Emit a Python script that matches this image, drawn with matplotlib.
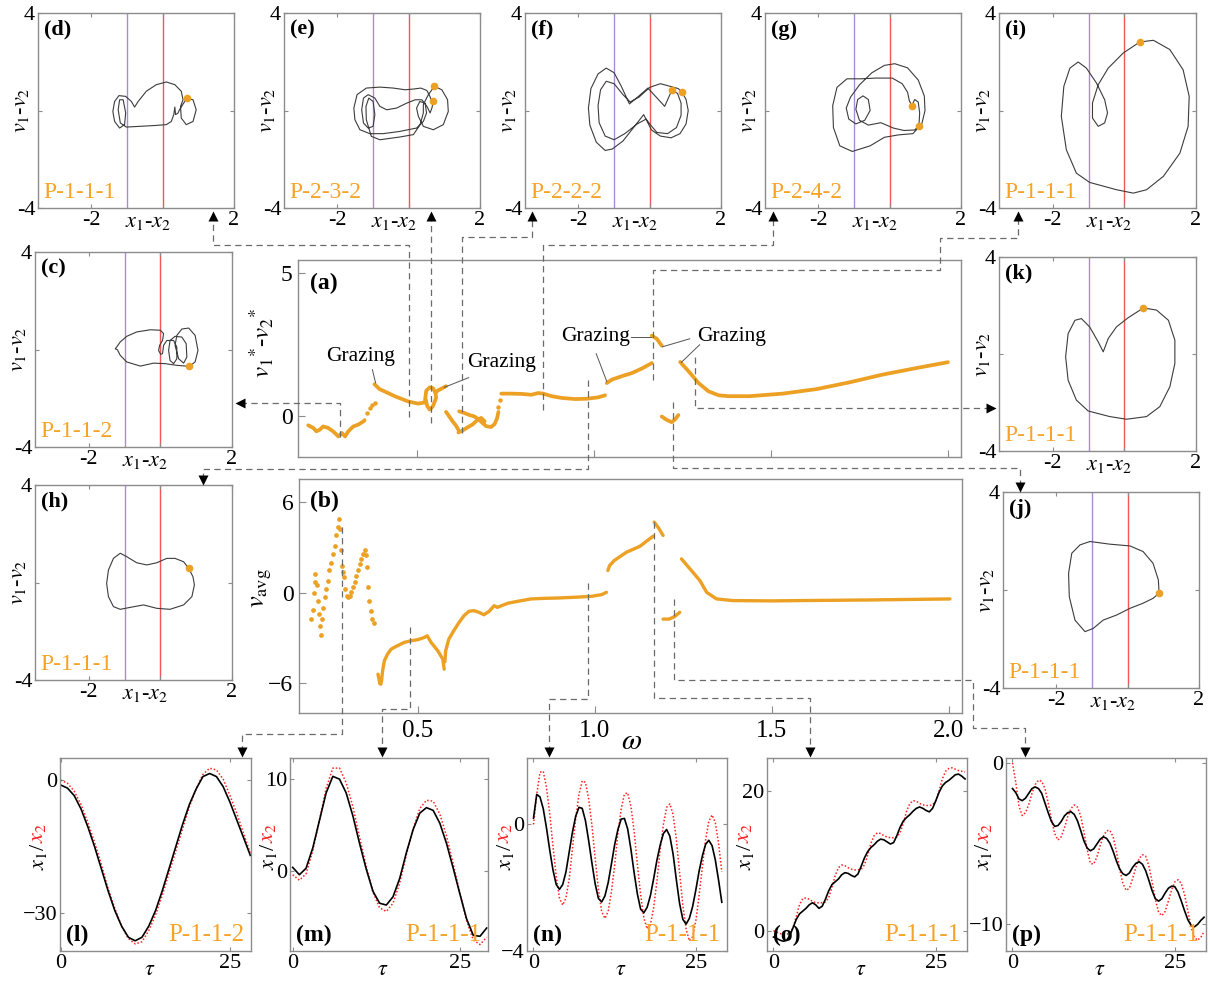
import numpy as np
import matplotlib.pyplot as plt
from matplotlib.lines import Line2D

plt.rcParams['font.family'] = ['Liberation Serif', 'DejaVu Serif']
plt.rcParams['mathtext.fontset'] = 'stix'

W, H = 1210, 983
ORANGE = '#eca024'
TXT_ORANGE = '#f7a328'
PURPLE = '#a98ad8'
RED = '#f25656'
SPINE = '#8c8c8c'
DASH = '#6a6a6a'

# ---------------- panel (a): v1*-v2* vs omega ----------------
A_LINES = [
    ([0.194, 0.208, 0.217, 0.227, 0.236, 0.250, 0.264, 0.279, 0.289, 0.298, 0.307, 0.321, 0.336, 0.350, 0.353],
     [-0.34, -0.43, -0.55, -0.49, -0.38, -0.43, -0.55, -0.73, -0.61, -0.73, -0.55, -0.38, -0.31, -0.20, -0.16]),
    ([0.381, 0.395, 0.409, 0.438, 0.475, 0.504, 0.523],
     [1.10, 0.93, 0.85, 0.68, 0.50, 0.42, 0.46]),
    ([0.523, 0.527, 0.537, 0.546, 0.553, 0.555, 0.546, 0.537, 0.530, 0.526],
     [0.46, 0.87, 0.99, 0.96, 0.81, 0.62, 0.33, 0.21, 0.33, 0.55]),
    ([0.553, 0.560, 0.574, 0.583], [0.80, 0.88, 0.97, 1.03]),
    ([0.583, 0.592, 0.602, 0.611, 0.618], [0.13, -0.03, -0.21, -0.35, -0.50]),
    ([0.620, 0.635, 0.649, 0.663, 0.677, 0.687, 0.696, 0.710, 0.720, 0.727, 0.731],
     [0.15, 0.09, 0.02, -0.03, -0.15, -0.27, -0.37, -0.40, -0.30, -0.10, 0.13]),
    ([0.618, 0.630, 0.644, 0.658, 0.671, 0.682, 0.692],
     [-0.59, -0.52, -0.41, -0.31, -0.16, -0.08, -0.20]),
    ([0.739, 0.767, 0.796, 0.824, 0.843, 0.857, 0.881, 0.909, 0.947, 0.980, 1.013, 1.032],
     [0.77, 0.77, 0.76, 0.73, 0.79, 0.77, 0.68, 0.62, 0.58, 0.59, 0.64, 0.71]),
    ([1.037, 1.051, 1.079, 1.108, 1.136, 1.164], [1.14, 1.26, 1.38, 1.49, 1.65, 1.84]),
    ([1.164, 1.178, 1.192], [2.80, 2.69, 2.45]),
    ([1.192, 1.206, 1.220, 1.230, 1.239], [-0.03, -0.15, -0.23, -0.13, 0.02]),
    ([1.244, 1.268, 1.296, 1.324, 1.353, 1.381, 1.44, 1.534, 1.63, 1.724, 1.817, 1.913, 2.0],
     [1.88, 1.55, 1.14, 0.85, 0.71, 0.68, 0.68, 0.77, 0.93, 1.17, 1.44, 1.67, 1.87]),
]
A_DOTS_W = [0.361, 0.367, 0.374, 0.381, 0.731, 0.734]
A_DOTS_V = [0.08, 0.26, 0.38, 0.44, 0.31, 0.56]

# ---------------- panel (b): v_avg vs omega ----------------
B_DOTS_W = [0.200, 0.204, 0.206, 0.209, 0.211, 0.215, 0.218, 0.221, 0.224, 0.228,
            0.231, 0.234, 0.238, 0.242, 0.247, 0.251, 0.256, 0.261, 0.266, 0.270,
            0.275, 0.278, 0.281, 0.283, 0.285, 0.288, 0.292, 0.296, 0.300, 0.304,
            0.308, 0.313, 0.318, 0.322, 0.327, 0.332, 0.336, 0.341, 0.346, 0.350,
            0.355, 0.358, 0.360, 0.364, 0.368, 0.371, 0.377]
B_DOTS_V = [-1.76, -1.17, 0.0, 0.69, 1.24, 0.53, -0.53, -1.4, -2.2, -2.8,
            -1.76, -1.0, -0.31, 0.24, 0.8, 1.47, 2.0, 2.58, 3.13, 3.8,
            4.36, 4.87, 4.2, 2.8, 1.8, 1.36, 1.02, 0.24, -0.2, -0.31,
            -0.2, 0.02, 0.36, 0.69, 1.13, 1.47, 1.87, 2.24, 2.58, 2.8,
            2.53, 1.69, 0.36, -0.53, -1.2, -1.76, -2.02]
B_LINES = [
    ([0.388, 0.391, 0.393, 0.396, 0.398, 0.401, 0.406, 0.415, 0.425, 0.443, 0.462, 0.481,
      0.500, 0.519, 0.527, 0.538, 0.557, 0.571, 0.575],
     [-5.42, -5.76, -6.04, -6.09, -5.87, -5.2, -4.53, -4.09, -3.76, -3.53, -3.31, -3.2,
      -3.13, -2.98, -2.87, -3.31, -3.87, -4.42, -5.09]),
    ([0.577, 0.579, 0.588, 0.602, 0.617, 0.631, 0.645, 0.659, 0.673, 0.687, 0.702, 0.716,
      0.725, 0.754, 0.782, 0.820, 0.857, 0.895, 0.942, 0.990, 1.020, 1.033],
     [-4.6, -3.87, -3.09, -2.53, -1.98, -1.53, -1.24, -1.2, -1.31, -1.47, -1.24, -0.87,
      -0.98, -0.71, -0.58, -0.42, -0.38, -0.36, -0.31, -0.25, -0.13, 0.02]),
    ([1.037, 1.042, 1.055, 1.090, 1.127, 1.165], [1.47, 1.8, 2.13, 2.69, 3.07, 3.75]),
    ([1.168, 1.180, 1.193], [4.69, 4.3, 3.8]),
    ([1.193, 1.210, 1.225, 1.240], [-1.76, -1.76, -1.6, -1.31]),
    ([1.245, 1.270, 1.297, 1.316, 1.344, 1.390, 1.500, 1.579, 1.768, 2.003],
     [2.24, 1.55, 0.8, 0.02, -0.42, -0.53, -0.55, -0.53, -0.49, -0.42]),
]

# ---------------- phase portraits: x1-x2 vs v1-v2 ----------------
D_X = [0.68, 0.85, 0.94, 0.85, 0.66, 0.52, 0.50, 0.57, 0.52, 0.34, 0.10, -0.18, -0.46, -0.69, -0.79,
       -0.88, -1.04, -1.23, -1.35, -1.40, -1.35, -1.21, -1.07, -1.04, -1.11, -1.21, -1.25, -1.19, -1.02,
       -0.65, -0.27, 0.10, 0.24, 0.31, 0.34, 0.36, 0.43, 0.47, 0.59, 0.68]
D_Y = [0.50, 0.44, 0.03, -0.45, -0.58, -0.31, 0.17, 0.44, 0.79, 1.06, 1.17, 1.06, 0.79, 0.37, 0.14,
       0.37, 0.58, 0.61, 0.37, -0.04, -0.45, -0.72, -0.58, -0.10, 0.44, 0.44, 0.03, -0.51, -0.68,
       -0.65, -0.62, -0.58, -0.45, -0.17, 0.14, -0.17, -0.10, 0.03, 0.31, 0.50]

E_X = [0.72, 0.93, 1.09, 1.11, 0.97, 0.69, 0.41, 0.27, 0.22, 0.31, 0.46, 0.50, 0.41, 0.22, -0.26,
       -0.72, -1.09, -1.37, -1.51, -1.54, -1.45, -1.19, -0.81, -0.43, -0.10, 0.13, 0.34, 0.51, 0.60,
       0.65, 0.69, 0.65, 0.60, 0.51, 0.37, 0.18, -0.06, -0.34, -0.62, -0.81, -0.95, -1.14, -1.27,
       -1.32, -1.27, -1.14, -1.00, -0.95, -1.00, -1.12, -1.20, -1.19, -1.05, -0.81, -0.26, 0.13,
       0.32, 0.41, 0.41, 0.55, 0.72]
E_Y = [0.99, 0.85, 0.44, -0.04, -0.58, -0.79, -0.65, -0.24, 0.10, 0.37, 0.30, -0.10, -0.45, -0.72, -0.86,
       -0.95, -0.95, -0.79, -0.38, 0.10, 0.65, 0.92, 0.96, 0.92, 0.85, 0.88, 0.92, 0.82, 0.56,
       0.37, 0.37, 0.10, -0.10, 0.17, 0.44, 0.44, 0.30, 0.10, 0.03, 0.17, 0.51, 0.65, 0.51,
       0.03, -0.51, -0.72, -0.65, -0.17, 0.37, 0.51, 0.17, -0.38, -1.06, -1.20, -1.09, -0.99,
       -0.58, -0.10, 0.24, 0.65, 0.99]

F_X = [0.91, 1.02, 1.08, 1.02, 0.85, 0.60, 0.30, 0.05, -0.17, -0.40, -0.75, -1.05, -1.25, -1.50,
       -1.68, -1.72, -1.65, -1.45, -1.22, -1.00, -0.80, -0.57, -0.30, -0.05, 0.15, 0.42, 0.55, 0.62,
       0.78, 0.88, 0.88, 0.75, 0.50, 0.20, 0.00, -0.10, -0.35, -0.70, -1.00, -1.25, -1.42, -1.45,
       -1.38, -1.22, -1.00, -0.75, -0.55, -0.30, 0.00, 0.30, 0.55, 0.80, 0.91]
F_Y = [0.74, 0.45, 0.00, -0.55, -0.95, -1.12, -1.05, -0.80, -0.17, -0.60, -1.25, -1.58, -1.64, -1.30,
       -0.60, 0.10, 0.90, 1.50, 1.74, 1.55, 1.00, 0.27, 0.60, 0.92, 0.60, 0.17, 0.60, 0.83,
       0.70, 0.30, -0.20, -0.70, -0.95, -0.90, -0.55, -0.35, -0.55, -0.95, -1.20, -1.05, -0.50, 0.20,
       0.85, 1.20, 1.10, 0.65, 0.35, 0.55, 0.95, 1.10, 1.00, 0.90, 0.74]

G_X = [0.62, 0.70, 0.80, 0.84, 0.82, 0.70, 0.40, 0.10, -0.25, -0.60, -0.85, -0.95, -0.90, -0.75,
       -0.60, -0.55, -0.70, -0.95, -1.15, -1.22, -1.10, -0.85, -0.50, -0.15, 0.14, 0.50, 0.80, 0.97,
       0.99, 0.90, 0.65, 0.25, -0.15, -0.55, -1.05, -1.40, -1.58, -1.60, -1.48, -1.20, -0.80, -0.40,
       0.07, 0.35, 0.50, 0.55, 0.62]
G_Y = [0.20, 0.45, 0.35, -0.10, -0.62, -0.80, -0.82, -0.72, -0.50, -0.60, -0.40, 0.05, 0.45, 0.60,
       0.45, 0.00, -0.40, -0.55, -0.35, 0.10, 0.55, 1.05, 1.55, 1.85, 1.92, 1.75, 1.25, 0.60,
       0.00, -0.55, -0.95, -1.00, -1.10, -1.45, -1.68, -1.45, -0.70, 0.20, 0.95, 1.30, 1.30, 1.33,
       1.33, 1.10, 0.75, 0.40, 0.20]

I_X = [0.43, 0.81, 1.27, 1.64, 1.81, 1.78, 1.55, 1.09, 0.62, 0.25, -0.22, -0.97, -1.34, -1.62, -1.76,
       -1.69, -1.52, -1.29, -1.06, -0.78, -0.55, -0.47, -0.55, -0.73, -0.89, -0.89, -0.73, -0.45,
       -0.03, 0.43]
I_Y = [2.81, 2.88, 2.50, 1.67, 0.58, -0.65, -1.75, -2.70, -3.25, -3.39, -3.25, -2.95, -2.57, -1.61,
       -0.24, 0.99, 1.74, 1.99, 1.74, 1.13, 0.44, -0.10, -0.51, -0.65, -0.31, 0.31, 1.06, 1.74,
       2.36, 2.81]

C_X = [0.81, 0.97, 1.05, 0.97, 0.79, 0.60, 0.46, 0.41, 0.51, 0.65, 0.74, 0.72, 0.60, 0.41, 0.27,
       0.23, 0.27, 0.37, 0.46, 0.46, 0.37, 0.18, 0.09, 0.06, 0.01, -0.05, -0.02, 0.06, 0.09, 0.00,
       -0.28, -0.66, -0.94, -1.12, -1.22, -1.26, -1.20, -1.12, -0.94, -0.56, -0.19, 0.13, 0.46, 0.81]
C_Y = [-0.69, -0.51, -0.04, 0.58, 0.88, 0.84, 0.58, 0.17, -0.38, -0.56, -0.31, 0.24, 0.51, 0.54, 0.37,
       -0.04, -0.45, -0.58, -0.38, 0.10, 0.37, 0.37, 0.17, -0.17, -0.20, -0.04, 0.17, 0.37, 0.65, 0.79,
       0.81, 0.72, 0.54, 0.31, 0.10, 0.03, -0.01, -0.24, -0.51, -0.68, -0.56, -0.58, -0.65, -0.69]

H_X = [0.79, 0.91, 0.95, 0.88, 0.65, 0.27, -0.10, -0.47, -0.84, -1.12, -1.31, -1.45, -1.50, -1.45,
       -1.31, -1.12, -0.94, -0.66, -0.38, -0.10, 0.18, 0.41, 0.65, 0.79]
H_Y = [0.58, 0.24, -0.10, -0.58, -0.92, -1.10, -1.06, -0.92, -1.02, -1.10, -0.99, -0.58, -0.04, 0.51,
       0.99, 1.20, 1.06, 0.81, 0.72, 0.81, 0.99, 0.99, 0.85, 0.58]

K_X = [0.53, 0.90, 1.23, 1.41, 1.41, 1.27, 0.99, 0.62, 0.06, -0.41, -1.01, -1.34, -1.57, -1.64, -1.57,
       -1.38, -1.20, -0.97, -0.73, -0.59, -0.45, -0.22, 0.11, 0.29, 0.53]
K_Y = [1.90, 1.81, 1.39, 0.57, -0.39, -1.35, -2.17, -2.58, -2.69, -2.58, -2.35, -1.90, -1.08, -0.12,
       0.84, 1.39, 1.46, 1.12, 0.50, 0.09, 0.64, 1.12, 1.50, 1.67, 1.90]

J_X = [0.88, 0.86, 0.71, 0.43, 0.06, -0.50, -1.06, -1.34, -1.57, -1.66, -1.64, -1.48, -1.20, -0.97,
       -0.69, -0.31, 0.06, 0.43, 0.71, 0.88]
J_Y = [-0.13, 0.41, 1.09, 1.57, 1.80, 1.87, 1.98, 1.84, 1.50, 0.68, -0.27, -1.23, -1.70, -1.57,
       -1.23, -1.02, -0.75, -0.54, -0.34, -0.13]

# Poincare points (orange dots)
DOTS = {
    'd': ([0.68], [0.50]), 'e': ([0.72, 0.69], [0.99, 0.37]), 'f': ([0.62, 0.91], [0.83, 0.74]),
    'g': ([0.62, 0.82], [0.20, -0.62]), 'i': ([0.43], [2.81]), 'c': ([0.81], [-0.69]),
    'h': ([0.79], [0.58]), 'k': ([0.53], [1.90]), 'j': ([0.88], [-0.13]),
}

# ---------------- time histories x1 (black) / x2 (red) ----------------
L_X1 = [-1.1, -1.8, -3.5, -6.5, -10.5, -15, -20, -25, -29.5, -33, -35.5, -36.3, -35.5, -33, -29.5,
        -25, -20, -15, -10, -5.5, -2, 0.8, 1.5, 0.8, -1.5, -5, -9, -13, -17]
L_X2 = [0, -0.7, -2.5, -5.5, -9.5, -14, -19, -24.5, -29, -33, -35.8, -37, -36.5, -34, -30.5,
        -26, -21, -16, -11, -6, -2, 1.3, 2.7, 2.3, 0.2, -3.5, -7.5, -12, -16.5]
M_X1 = [0.4, -0.4, 0.3, 2.5, 5.5, 8.5, 10.3, 10.0, 8.5, 6, 3, 0.2, -2.2, -3.5, -3.7,
        -2.8, -0.8, 2, 4.5, 6.3, 6.9, 6.6, 5.2, 3, 0.3, -2.5, -5.2, -7, -7.1, -6.2]
M_X2 = [-0.4, -1.0, -0.3, 2.2, 5.5, 9, 11.2, 11.2, 9.6, 7, 3.7, 0.5, -2.3, -4, -4.4,
        -3.5, -1.3, 1.8, 4.6, 6.8, 7.7, 7.6, 6.2, 3.8, 0.8, -2.4, -5.4, -7.5, -8.0, -7.2]
N_X1 = [0.2, 0.95, 0.87, 0.50, -0.11, -0.81, -1.44, -1.90, -2.05, -1.90,
        -1.50, -0.87, -0.24, 0.26, 0.54, 0.51, 0.12, -0.52, -1.22, -1.88,
        -2.34, -2.45, -2.26, -1.84, -1.25, -0.64, -0.16, 0.17, 0.19, -0.14,
        -0.78, -1.53, -2.2, -2.68, -2.79, -2.62, -2.25, -1.72, -1.14, -0.66,
        -0.29, -0.16, -0.37, -0.94, -1.75, -2.5, -3.0, -3.15, -2.97, -2.6,
        -2.07, -1.48, -1.0, -0.63, -0.5, -0.67, -1.12, -1.76, -2.46]
N_X2 = [0.0, 0.95, 1.65, 1.68, 1.17, 0.34, -0.69, -1.64, -2.33, -2.55,
        -2.32, -1.72, -0.76, 0.19, 0.94, 1.38, 1.33, 0.81, -0.03, -1.08,
        -2.05, -2.75, -2.97, -2.75, -2.13, -1.29, -0.28, 0.48, 0.96, 1.0,
        0.58, -0.22, -1.27, -2.22, -2.96, -3.3, -3.17, -2.64, -1.80, -0.81,
        -0.01, 0.54, 0.65, 0.31, -0.47, -1.52, -2.56, -3.3, -3.68, -3.55,
        -3.05, -2.25, -1.34, -0.5, 0.1, 0.3, 0.06, -0.6, -1.5]
O_X1 = [-0.9, -1.1, -1.35, -1.5, -1.4, -0.7, 0.4, 1.6, 2.4, 2.8,
        3.2, 3.7, 4.0, 3.7, 3.2, 3.5, 4.5, 5.7, 6.6, 7.0,
        7.4, 8.0, 8.3, 8.2, 7.9, 7.7, 8.1, 9.2, 10.4, 11.3,
        11.9, 12.3, 12.8, 13.1, 13.0, 12.7, 12.4, 12.6, 13.6, 14.8,
        15.7, 16.2, 16.6, 17.1, 17.5, 17.7, 17.5, 17.2, 17.0, 17.5,
        18.6, 19.8, 20.7, 21.2, 21.5, 21.9, 22.3, 22.4, 22.1, 21.7]
O_X2 = [0.0, -0.2, -0.4, -0.5, -0.5, -0.4, 0.4, 2.0, 3.7, 4.6,
        4.7, 4.5, 4.2, 4.0, 4.0, 4.0, 4.1, 4.7, 6.2, 7.9,
        9.0, 9.4, 9.3, 9.0, 8.8, 8.7, 8.7, 8.8, 9.4, 10.8,
        12.5, 13.6, 14.0, 13.9, 13.6, 13.4, 13.3, 13.3, 13.4, 14.0,
        15.4, 17.1, 18.2, 18.6, 18.5, 18.2, 18.0, 17.9, 17.9, 18.0,
        18.6, 20.0, 21.7, 22.8, 23.2, 23.3, 23.1, 22.9, 22.8, 22.7]
P_X1 = [-1.6, -1.85, -2.25, -2.35, -2.2, -1.9, -1.6, -1.5, -1.6, -1.9,
        -2.5, -3.1, -3.65, -3.95, -3.9, -3.65, -3.3, -3.1, -3.04, -3.2,
        -3.6, -4.2, -4.85, -5.3, -5.47, -5.35, -5.05, -4.75, -4.6, -4.7,
        -5.0, -5.5, -6.1, -6.6, -6.9, -7.0, -6.85, -6.5, -6.25, -6.15,
        -6.3, -6.7, -7.3, -7.95, -8.45, -8.6, -8.45, -8.1, -7.8, -7.67,
        -7.7, -8.05, -8.6, -9.2, -9.75, -10.1, -10.2, -10.05, -9.8, -9.6]
P_X2 = [0.0, -1.2, -2.7, -3.28, -3.1, -2.6, -1.9, -1.35, -1.08, -1.15,
        -1.6, -2.5, -3.5, -4.4, -4.8, -4.6, -4.05, -3.35, -2.85, -2.62,
        -2.75, -3.3, -4.3, -5.4, -6.25, -6.3, -5.85, -5.15, -4.55, -4.22,
        -4.2, -4.6, -5.5, -6.6, -7.5, -7.93, -7.8, -7.2, -6.5, -5.95,
        -5.72, -5.8, -6.4, -7.4, -8.5, -9.3, -9.5, -9.25, -8.6, -7.9,
        -7.4, -7.27, -7.5, -8.2, -9.2, -10.2, -10.85, -11.03, -10.85, -10.5]

# dashed links from the bifurcation diagrams to the sub-panels (pixel coords)
LINKS = [
    ([(409, 417), (409, 245), (213, 245), (213, 212)], '^'),
    ([(431, 423), (431, 212)], '^'),
    ([(462, 433), (462, 237), (532, 237), (532, 212)], '^'),
    ([(543, 410), (543, 245), (773, 245), (773, 212)], '^'),
    ([(653, 380), (653, 270), (940, 270), (940, 238), (1018, 238), (1018, 212)], '^'),
    ([(340, 437), (340, 403), (236, 403)], '<'),
    ([(695, 357), (695, 408), (995, 408)], '>'),
    ([(588, 380), (588, 469), (203, 469), (203, 484)], 'v'),
    ([(673, 402), (673, 468), (1020, 468), (1020, 491)], 'v'),
    ([(342, 527), (342, 734), (242, 734), (242, 756)], 'v'),
    ([(410, 627), (410, 709), (382, 709), (382, 756)], 'v'),
    ([(588, 583), (588, 699), (549, 699), (549, 756)], 'v'),
    ([(654, 522), (654, 698), (810, 698), (810, 756)], 'v'),
    ([(674, 599), (674, 680), (973, 680), (973, 728), (1025, 728), (1025, 756)], 'v'),
]


def px_box(l, t, r, b):
    return [l / W, 1 - b / H, (r - l) / W, (b - t) / H]


def style(ax, size=16):
    for s in ax.spines.values():
        s.set_color(SPINE)
        s.set_linewidth(1.0)
    ax.tick_params(direction='in', length=3, width=0.8, color=SPINE, labelsize=size, pad=2)


def phase(fig, rect, tag, period, xs, ys, dots):
    ax = fig.add_axes(px_box(*rect))
    style(ax)
    ax.axvline(-1, color=PURPLE, lw=1.0, zorder=1)
    ax.axvline(0, color=RED, lw=1.0, zorder=1)
    ax.plot(xs, ys, color='#3c3c3c', lw=0.8, solid_joinstyle='round', zorder=2)
    ax.plot(dots[0], dots[1], 'o', color=ORANGE, ms=5.5, mec='none', zorder=3)
    ax.set_xlim(-3.5, 2)
    ax.set_ylim(-4, 4)
    ax.set_xticks([-2, 0, 2], ['-2', '', '2'])
    ax.set_yticks([-4, 0, 4], ['-4', '', '4'])
    ax.tick_params(top=True, right=True)
    ax.text(0.03, 0.965, tag, transform=ax.transAxes, fontsize=16, fontweight='bold', va='top')
    ax.text(0.025, 0.025, period, transform=ax.transAxes, fontsize=17, color=TXT_ORANGE, va='bottom')
    ax.text(0.56, -0.025, r'$x_1$-$x_2$', transform=ax.transAxes, fontsize=16, ha='center', va='top')
    ax.text(-0.085, 0.5, r'$v_1$-$v_2$', transform=ax.transAxes, fontsize=16, rotation=90,
            ha='center', va='center')
    return ax


def history(fig, rect, tag, period, step, x1, x2, xlim, ylim, yticks):
    ax = fig.add_axes(px_box(*rect))
    style(ax)
    tau = np.arange(len(x1)) * step
    ax.plot(tau, x2, color='#ff2020', lw=1.1, ls=(0, (1, 1.3)))
    ax.plot(tau, x1, color='black', lw=1.2)
    ax.set_xlim(*xlim)
    ax.set_ylim(*ylim)
    ax.set_xticks([0, 25])
    ax.set_yticks(yticks)
    ax.tick_params(top=True, right=True)
    ax.text(0.03, 0.025, tag, transform=ax.transAxes, fontsize=17, fontweight='bold', va='bottom')
    ax.text(0.965, 0.025, period, transform=ax.transAxes, fontsize=18, color=TXT_ORANGE,
            ha='right', va='bottom')
    ax.text(0.47, -0.125, r'$\tau$', transform=ax.transAxes, fontsize=16, ha='center', va='baseline')
    ax.text(-0.11, 0.56, r'$x_1$/', transform=ax.transAxes, fontsize=16, rotation=90,
            rotation_mode='anchor', ha='right', va='center')
    ax.text(-0.11, 0.56, r'$x_2$', transform=ax.transAxes, fontsize=16, rotation=90, color='#ff2020',
            rotation_mode='anchor', ha='left', va='center')
    return ax


fig = plt.figure(figsize=(W / 100, H / 100), dpi=100)

# top row
phase(fig, (38, 13, 234, 208), '(d)', 'P-1-1-1', D_X, D_Y, DOTS['d'])
phase(fig, (284, 13, 480, 208), '(e)', 'P-2-3-2', E_X, E_Y, DOTS['e'])
phase(fig, (525, 13, 721, 208), '(f)', 'P-2-2-2', F_X, F_Y, DOTS['f'])
phase(fig, (765, 13, 961, 208), '(g)', 'P-2-4-2', G_X, G_Y, DOTS['g'])
phase(fig, (999, 13, 1196, 208), '(i)', 'P-1-1-1', I_X, I_Y, DOTS['i'])
# side panels
phase(fig, (35, 252, 232, 447), '(c)', 'P-1-1-2', C_X, C_Y, DOTS['c'])
phase(fig, (35, 485, 232, 680), '(h)', 'P-1-1-1', H_X, H_Y, DOTS['h'])
phase(fig, (999, 257, 1196, 451), '(k)', 'P-1-1-1', K_X, K_Y, DOTS['k'])
phase(fig, (1003, 492, 1199, 688), '(j)', 'P-1-1-1', J_X, J_Y, DOTS['j'])

# (a)
ax_a = fig.add_axes(px_box(298, 260, 961, 457))
style(ax_a)
for w, v in A_LINES:
    ax_a.plot(w, v, color=ORANGE, lw=2.7, solid_capstyle='round')
ax_a.plot(A_DOTS_W, A_DOTS_V, 'o', color=ORANGE, ms=3.2, mec='none')
ax_a.set_xlim(0.165, 2.037)
ax_a.set_ylim(-1.45, 5.45)
ax_a.set_xticks([0.5, 1.0, 1.5, 2.0], [])
ax_a.set_yticks([0, 5])
ax_a.tick_params(length=5, labelsize=17, pad=4)
ax_a.text(0.018, 0.935, '(a)', transform=ax_a.transAxes, fontsize=17, fontweight='bold', va='top')
ax_a.text(-0.055, 0.58, r'$v_1{}^{*}$-$v_2{}^{*}$', transform=ax_a.transAxes, fontsize=18,
          rotation=90, ha='center', va='center')
graz = dict(fontsize=15.5, ha='center', va='center')
lead = dict(color='#555555', lw=0.7)
ax_a.text(0.341, 2.06, 'Grazing', **graz)
ax_a.plot([0.375, 0.384], [1.61, 1.15], **lead)
ax_a.text(0.741, 1.85, 'Grazing', **graz)
ax_a.plot([0.647, 0.578], [1.33, 0.99], **lead)
ax_a.text(1.004, 2.76, 'Grazing', **graz)
ax_a.plot([1.106, 1.162], [2.76, 2.76], **lead)
ax_a.plot([1.007, 1.037], [2.17, 1.19], **lead)
ax_a.text(1.39, 2.76, 'Grazing', **graz)
ax_a.plot([1.271, 1.194], [2.69, 2.41], **lead)
ax_a.plot([1.299, 1.247], [2.48, 1.86], **lead)

# (b)
ax_b = fig.add_axes(px_box(299, 479, 962, 713))
style(ax_b)
for w, v in B_LINES:
    ax_b.plot(w, v, color=ORANGE, lw=2.4, solid_capstyle='round')
ax_b.plot(B_DOTS_W, B_DOTS_V, 'o', color=ORANGE, ms=3.4, mec='none')
ax_b.set_xlim(0.165, 2.037)
ax_b.set_ylim(-8.0, 7.55)
ax_b.set_xticks([0.5, 1.0, 1.5, 2.0], ['0.5', '1.0', '1.5', '2.0'])
ax_b.set_yticks([-6, 0, 6])
ax_b.tick_params(axis='y', length=5, labelsize=17, pad=4)
ax_b.tick_params(axis='x', length=5, labelsize=18, pad=5)
ax_b.text(0.017, 0.95, '(b)', transform=ax_b.transAxes, fontsize=17, fontweight='bold', va='top')
ax_b.text(-0.056, 0.535, r'$v_{\rm avg}$', transform=ax_b.transAxes, fontsize=19, rotation=90,
          ha='center', va='center')
ax_b.text(0.502, -0.125, r'$\omega$', transform=ax_b.transAxes, fontsize=21, ha='center', va='center')

# bottom row
history(fig, (60, 758, 251, 951), '(l)', 'P-1-1-2', 1.0, L_X1, L_X2, (-0.1, 28.1), (-38.6, 5.0), [-30, 0])
history(fig, (290, 758, 488, 951), '(m)', 'P-1-1-1', 1.0, M_X1, M_X2, (-0.4, 29.2), (-8.7, 12.3), [0, 10])
history(fig, (527, 758, 727, 951), '(n)', 'P-1-1-1', 0.5, N_X1, N_X2, (-1.0, 29.8), (-4.0, 2.1), [-4, 0])
history(fig, (767, 758, 967, 951), '(o)', 'P-1-1-1', 0.5, O_X1, O_X2, (-1.0, 29.8), (-2.9, 24.7), [0, 20])
history(fig, (1006, 758, 1206, 951), '(p)', 'P-1-1-1', 0.5, P_X1, P_X2, (-1.0, 29.8), (-11.7, 0.3), [-10, 0])

# dashed connectors with arrow heads
shift = {'^': (0, 4), 'v': (0, -4), '<': (4, 0), '>': (-4, 0)}
for pts, mk in LINKS:
    xs = [p[0] / W for p in pts]
    ys = [1 - p[1] / H for p in pts]
    fig.add_artist(Line2D(xs, ys, transform=fig.transFigure, color=DASH, lw=0.9, ls=(0, (5, 3.5))))
    tx, ty = pts[-1]
    dx, dy = shift[mk]
    fig.add_artist(Line2D([(tx + dx) / W], [1 - (ty + dy) / H], transform=fig.transFigure,
                          marker=mk, ms=6.5, color='black', mec='none', ls='none'))

fig.savefig('out.png', dpi=100, facecolor='white')
